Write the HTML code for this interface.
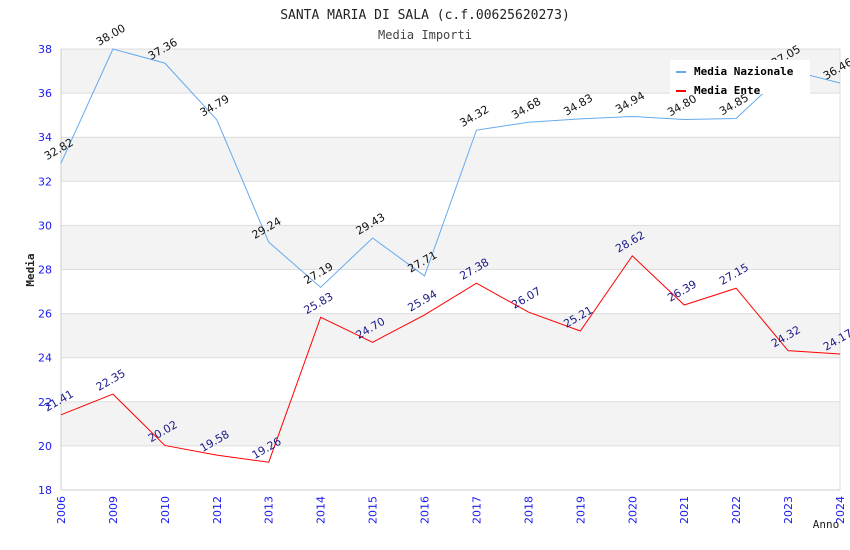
<!DOCTYPE html>
<html><head><meta charset="utf-8"><style>body{margin:0;background:#fff}svg{display:block}</style></head>
<body>
<svg id="chart" width="850" height="550" xmlns="http://www.w3.org/2000/svg" font-family="DejaVu Sans Mono, Liberation Mono, monospace">
<text x="425" y="19" text-anchor="middle" font-size="13" fill="#222">SANTA MARIA DI SALA (c.f.00625620273)</text>
<text x="425" y="39" text-anchor="middle" font-size="12" fill="#444">Media Importi</text>
<g id="bands"></g><g id="grid"></g><g id="axes"></g><g id="series"></g>
<text transform="translate(34,270) rotate(-90)" text-anchor="middle" font-size="11" font-weight="bold" fill="#222">Media</text>
<text x="826" y="528" text-anchor="middle" font-size="11" fill="#222">Anno</text>
<g>
<rect x="670" y="60" width="140" height="34" fill="#fff"/>
<line x1="676" y1="72" x2="686" y2="72" stroke="#66aaee" stroke-width="2"/>
<text x="694" y="75" font-size="11" font-weight="bold" fill="#000">Media Nazionale</text>
<line x1="676" y1="91" x2="686" y2="91" stroke="red" stroke-width="2"/>
<text x="694" y="94" font-size="11" font-weight="bold" fill="#000">Media Ente</text>
</g>
</svg>
<script>
const categories=["2006","2009","2010","2012","2013","2014","2015","2016","2017","2018","2019","2020","2021","2022","2023","2024"];
const nazionale=[32.82,38.00,37.36,34.79,29.24,27.19,29.43,27.71,34.32,34.68,34.83,34.94,34.80,34.85,37.05,36.46];
const ente=[21.41,22.35,20.02,19.58,19.26,25.83,24.70,25.94,27.38,26.07,25.21,28.62,26.39,27.15,24.32,24.17];
const yTicks=[18,20,22,24,26,28,30,32,34,36,38];
const NS="http://www.w3.org/2000/svg";
const L=61,R=840,T=49,B=490,yMin=18,yMax=38;
const x=i=>L+i*(R-L)/(categories.length-1);
const y=v=>B-(v-yMin)/(yMax-yMin)*(B-T);
function mk(tag,attrs,parent,txt){const e=document.createElementNS(NS,tag);for(const k in attrs)e.setAttribute(k,attrs[k]);if(txt!=null)e.textContent=txt;document.getElementById(parent).appendChild(e);return e;}
for(let i=0;i<yTicks.length-1;i++){if(i%2===1){const r=mk('rect',{x:L,y:y(yTicks[i+1]),width:R-L,height:y(yTicks[i])-y(yTicks[i+1]),fill:'#f3f3f3'},'bands');

}}
yTicks.forEach(t=>{const g=mk('line',{x1:L,x2:R,y1:y(t),y2:y(t),stroke:'#ddd'},'grid');


const tl=mk('text',{x:L-9,y:y(t)+4,'text-anchor':'end','font-size':'11',fill:'#1a1aee','font-family':'DejaVu Sans, sans-serif'},'axes',String(t));

});
mk('line',{x1:L,x2:L,y1:T,y2:B,stroke:'#ccc'},'axes');
mk('line',{x1:L,x2:R,y1:B,y2:B,stroke:'#ccc'},'axes');
mk('line',{x1:R,x2:R,y1:T,y2:B,stroke:'#ddd'},'axes');
categories.forEach((c,i)=>{const t=mk('text',{transform:`translate(${x(i)+4},${B+6}) rotate(-90)`,'text-anchor':'end','font-size':'11',fill:'#1a1aee','font-family':'DejaVu Sans, sans-serif'},'axes',c);

});
function series(data,color,labelColor,name){
const p=mk('polyline',{points:data.map((v,i)=>x(i)+','+y(v)).join(' '),fill:'none',stroke:color,'stroke-width':'1'},'series');


data.forEach((v,i)=>{const t=mk('text',{transform:`translate(${x(i)-14},${y(v)-3}) rotate(-30)`,'font-size':'11',fill:labelColor,'font-family':'DejaVu Sans, sans-serif'},'series',v.toFixed(2));

});}
series(nazionale,'#66aaee','#111','nazionale');
series(ente,'red','#1a1a88','ente');
</script>
</body></html>
